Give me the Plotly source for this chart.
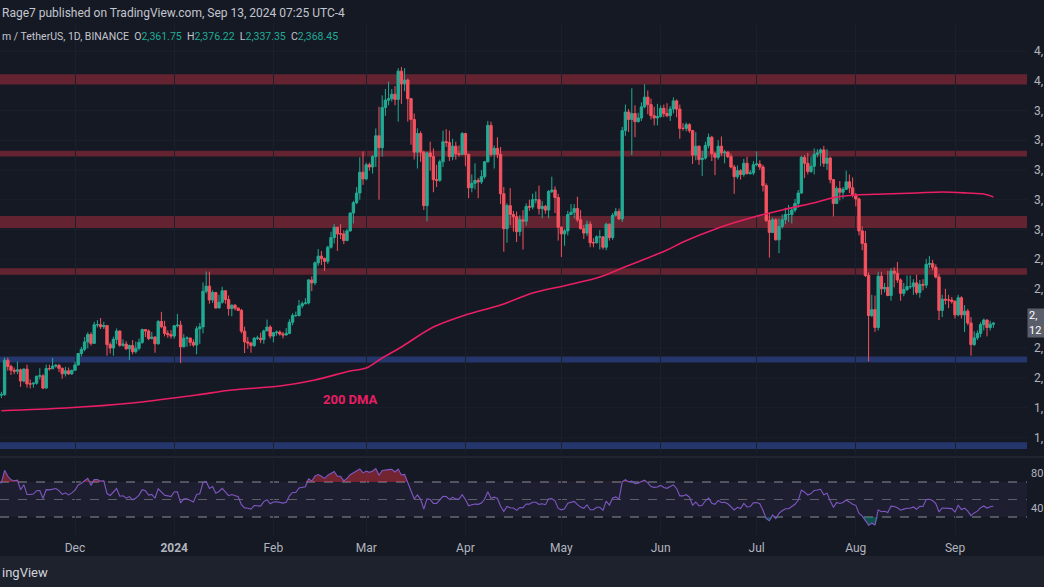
import numpy as np
import pandas as pd
import plotly.graph_objects as go

# ---------------- data (ETH/USDT daily) ----------------
start_date = "2023-11-07"
first_open = 1900

closes = [
    # Nov 7-30 2023
    1885, 1888, 2120, 2078, 2052, 2045, 2055, 1980, 2060, 1960, 1960, 1965, 2012, 2015, 1932, 2064, 2062, 2080, 2085, 2065, 2028, 2048, 2028, 2052,
    # Dec
    2088, 2165, 2193, 2243, 2293, 2233, 2358, 2359, 2345, 2353, 2225, 2202, 2260, 2316, 2220, 2228, 2196, 2218, 2177, 2200, 2240, 2326, 2316, 2265, 2275, 2230, 2380, 2345, 2300, 2292, 2282,
    # Jan 2024
    2352, 2356, 2210, 2268, 2269, 2240, 2222, 2331, 2344, 2584, 2618, 2525, 2575, 2471, 2510, 2587, 2528, 2467, 2490, 2470, 2455, 2315, 2243, 2236, 2218, 2268, 2268, 2258, 2317, 2343, 2282,
    # Feb
    2305, 2309, 2296, 2290, 2300, 2375, 2420, 2420, 2486, 2500, 2505, 2660, 2640, 2775, 2820, 2805, 2785, 2880, 2945, 3015, 2970, 2970, 2925, 2990, 3110, 3180, 3245, 3385, 3340,
    # Mar
    3435, 3420, 3490, 3630, 3550, 3820, 3870, 3880, 3910, 3875, 4065, 3980, 4005, 3880, 3740, 3520, 3645, 3520, 3160, 3515, 3490, 3335, 3330, 3455, 3590, 3585, 3490, 3560, 3510, 3505, 3645,
    # Apr
    3505, 3280, 3310, 3330, 3320, 3355, 3455, 3700, 3505, 3545, 3505, 3240, 3005, 3160, 3100, 3085, 2985, 3065, 3055, 3155, 3150, 3200, 3200, 3140, 3155, 3130, 3255, 3265, 3215, 3015,
    # May
    2970, 2990, 3100, 3115, 3140, 3065, 3005, 2975, 3035, 2910, 2910, 2950, 2950, 2880, 3035, 2945, 3095, 3120, 3070, 3665, 3790, 3740, 3780, 3725, 3750, 3825, 3890, 3840, 3765, 3750, 3760,
    # Jun
    3815, 3780, 3765, 3810, 3865, 3810, 3680, 3680, 3705, 3665, 3500, 3560, 3470, 3480, 3565, 3620, 3510, 3485, 3560, 3515, 3520, 3490, 3420, 3355, 3395, 3370, 3445, 3375, 3380, 3435,
    # Jul
    3440, 3420, 3295, 3060, 2980, 3065, 2930, 3020, 3065, 3100, 3100, 3130, 3175, 3245, 3485, 3445, 3390, 3425, 3505, 3515, 3535, 3445, 3480, 3335, 3175, 3275, 3250, 3270, 3320, 3280, 3230,
    # Aug
    3205, 2990, 2905, 2690, 2420, 2460, 2340, 2685, 2600, 2610, 2555, 2720, 2705, 2660, 2570, 2595, 2615, 2615, 2640, 2575, 2630, 2625, 2765, 2770, 2745, 2680, 2455, 2530, 2525, 2525, 2515,
    # Sep 1-13
    2425, 2540, 2425, 2450, 2370, 2225, 2270, 2300, 2360, 2390, 2340, 2361.75, 2368.45,
]

highs = [
    1905, 1907, 2137, 2138, 2090, 2070, 2110, 2063, 2065, 2090, 1990, 1970, 2015, 2065, 2025, 2090, 2090, 2135, 2095, 2095, 2070, 2075, 2070, 2055,
    2110, 2168, 2210, 2275, 2308, 2307, 2378, 2390, 2403, 2378, 2355, 2240, 2278, 2333, 2320, 2260, 2248, 2225, 2255, 2245, 2265, 2332, 2330, 2327, 2310, 2282, 2390, 2445, 2385, 2320, 2322,
    2354, 2431, 2385, 2295, 2280, 2270, 2260, 2350, 2370, 2643, 2717, 2715, 2590, 2580, 2560, 2614, 2588, 2555, 2495, 2498, 2475, 2465, 2345, 2275, 2240, 2275, 2285, 2305, 2325, 2393, 2355,
    2307, 2320, 2320, 2310, 2336, 2395, 2436, 2447, 2525, 2515, 2537, 2665, 2685, 2785, 2868, 2855, 2810, 2890, 2985, 3035, 3015, 3035, 2995, 3005, 3115, 3192, 3285, 3485, 3525,
    3450, 3450, 3500, 3680, 3825, 3902, 3945, 3995, 3945, 3965, 4085, 4093, 4085, 4015, 3885, 3780, 3680, 3660, 3530, 3525, 3590, 3545, 3435, 3470, 3665, 3675, 3665, 3610, 3590, 3565, 3655,
    3650, 3510, 3370, 3445, 3345, 3400, 3460, 3730, 3725, 3565, 3620, 3555, 3285, 3175, 3278, 3125, 3120, 3095, 3130, 3175, 3200, 3240, 3255, 3295, 3190, 3165, 3265, 3355, 3290, 3240,
    3020, 3005, 3125, 3170, 3170, 3220, 3130, 3030, 3060, 3055, 2940, 2960, 2995, 2955, 3045, 3040, 3110, 3145, 3140, 3690, 3840, 3810, 3950, 3835, 3785, 3855, 3977, 3935, 3880, 3825, 3845,
    3835, 3840, 3850, 3830, 3888, 3875, 3840, 3715, 3720, 3715, 3670, 3655, 3565, 3530, 3590, 3645, 3630, 3520, 3600, 3625, 3535, 3525, 3510, 3435, 3430, 3405, 3475, 3490, 3400, 3460,
    3525, 3465, 3435, 3310, 3110, 3080, 3075, 3075, 3100, 3145, 3165, 3145, 3205, 3265, 3495, 3500, 3515, 3490, 3545, 3540, 3545, 3562, 3540, 3490, 3340, 3290, 3325, 3285, 3395, 3370, 3350,
    3245, 3215, 3020, 2990, 2710, 2560, 2555, 2715, 2715, 2640, 2720, 2740, 2745, 2780, 2670, 2640, 2690, 2690, 2665, 2695, 2660, 2665, 2800, 2820, 2795, 2765, 2700, 2560, 2600, 2560, 2545,
    2525, 2560, 2550, 2490, 2465, 2410, 2315, 2320, 2375, 2400, 2395, 2385, 2376.22,
]

lows = [
    1855, 1865, 1880, 2050, 2020, 2025, 2025, 1940, 1970, 1935, 1930, 1935, 1955, 1990, 1925, 1930, 2050, 2060, 2070, 2040, 1995, 2010, 2020, 2020,
    2050, 2085, 2145, 2180, 2200, 2218, 2230, 2340, 2330, 2330, 2150, 2165, 2150, 2230, 2210, 2210, 2190, 2120, 2160, 2165, 2185, 2230, 2275, 2255, 2260, 2170, 2225, 2335, 2280, 2270, 2265,
    2265, 2340, 2100, 2205, 2210, 2215, 2210, 2160, 2230, 2300, 2570, 2500, 2505, 2467, 2470, 2500, 2500, 2420, 2415, 2455, 2450, 2300, 2168, 2197, 2170, 2208, 2255, 2235, 2230, 2315, 2265,
    2240, 2285, 2285, 2267, 2285, 2295, 2355, 2412, 2415, 2470, 2495, 2495, 2585, 2625, 2755, 2760, 2720, 2768, 2870, 2905, 2855, 2935, 2900, 2920, 2985, 3040, 3170, 3200, 3300,
    3330, 3395, 3375, 3420, 3200, 3490, 3765, 3835, 3860, 3835, 3725, 3845, 3930, 3725, 3570, 3470, 3410, 3455, 3130, 3055, 3395, 3250, 3285, 3320, 3420, 3555, 3460, 3465, 3470, 3490, 3500,
    3425, 3210, 3250, 3270, 3210, 3305, 3340, 3450, 3490, 3410, 3480, 3170, 2850, 2910, 3030, 2985, 2915, 2955, 2865, 3025, 3125, 3135, 3175, 3100, 3075, 3105, 3075, 3245, 3110, 2925,
    2815, 2890, 2960, 3095, 3075, 3050, 3000, 2935, 2955, 2880, 2880, 2905, 2865, 2865, 2860, 2925, 2930, 3085, 3065, 3050, 3630, 3655, 3500, 3620, 3720, 3730, 3815, 3775, 3740, 3700, 3700,
    3752, 3755, 3755, 3730, 3780, 3755, 3610, 3665, 3660, 3650, 3440, 3465, 3435, 3360, 3470, 3545, 3460, 3365, 3470, 3495, 3445, 3480, 3410, 3240, 3340, 3335, 3355, 3370, 3370, 3365,
    3425, 3400, 3255, 3050, 2810, 2975, 2925, 2840, 3005, 3035, 3050, 3040, 3115, 3145, 3240, 3345, 3370, 3380, 3370, 3485, 3425, 3420, 3400, 3310, 3087, 3170, 3195, 3205, 3265, 3245, 3215,
    3155, 2960, 2860, 2680, 2111, 2410, 2310, 2320, 2560, 2575, 2550, 2520, 2610, 2640, 2520, 2550, 2585, 2600, 2560, 2560, 2540, 2590, 2605, 2740, 2725, 2670, 2390, 2410, 2495, 2470, 2500,
    2400, 2415, 2400, 2310, 2355, 2150, 2215, 2255, 2275, 2320, 2280, 2320, 2337.35,
]

# closes before the visible window (Oct 8 - Nov 6 2023), only used to seed the RSI
warmup_closes = [1635, 1580, 1568, 1565, 1540, 1553, 1556, 1558, 1600, 1567, 1564, 1567, 1605, 1630, 1665,
                 1768, 1786, 1787, 1802, 1780, 1777, 1796, 1810, 1815, 1846, 1800, 1832, 1856, 1892, 1900]

# 200-day moving average
dma_dates = ["2023-11-08", "2023-11-28", "2023-12-19", "2024-01-08", "2024-01-19", "2024-02-03", "2024-02-14",
             "2024-02-25", "2024-03-01", "2024-03-06", "2024-03-12", "2024-03-22", "2024-04-01", "2024-04-12",
             "2024-04-22", "2024-05-03", "2024-05-13", "2024-05-20", "2024-05-24", "2024-06-03", "2024-06-08",
             "2024-06-19", "2024-06-29", "2024-07-09", "2024-07-20", "2024-07-26", "2024-08-01", "2024-08-10",
             "2024-08-20", "2024-08-28", "2024-09-05", "2024-09-10", "2024-09-13"]
dma_values = [1780, 1798, 1832, 1886, 1919, 1946, 1987, 2047, 2067, 2135, 2209, 2343, 2424, 2491, 2572, 2626,
              2680, 2740, 2774, 2861, 2915, 3010, 3077, 3131, 3185, 3218, 3232, 3238, 3245, 3252, 3245, 3238, 3218]

# horizontal zones (price bands)
red_zones = [(3975, 4045), (3490, 3530), (3010, 3090), (2695, 2738)]
blue_zones = [(2105, 2145), (1522, 1568)]

month_ticks = ["2023-12-01", "2024-01-01", "2024-02-01", "2024-03-01", "2024-04-01", "2024-05-01",
               "2024-06-01", "2024-07-01", "2024-08-01", "2024-09-01"]
month_labels = ["Dec", "<b>2024</b>", "Feb", "Mar", "Apr", "May", "Jun", "Jul", "Aug", "Sep"]
price_ticks = [1600, 1800, 2000, 2200, 2600, 2800, 3000, 3200, 3400, 3600, 3800, 4000, 4200, 4400]
# the price scale is cropped by the picture edge: only the leading "4," etc. is visible
price_tick_text = ["1,", "1,", "2,", "2,", "2,", "2,", "3,", "3,", "3,", "3,", "3,", "4,", "4,", "4,"]
rsi_ticks = [40, 80]

# ---------------- derived series ----------------
dates = pd.date_range(start_date, periods=len(closes), freq="D")
assert len(highs) == len(closes) == len(lows), (len(closes), len(highs), len(lows))
opens = [first_open] + closes[:-1]   # crypto daily open = previous close


def wilder_rsi(values, n=14):
    v = np.asarray(values, dtype=float)
    d = np.diff(v)
    g = np.clip(d, 0, None)
    l = np.clip(-d, 0, None)
    ag, al = g[:n].mean(), l[:n].mean()
    out = [np.nan] * n + [100 - 100 / (1 + ag / al)]
    for i in range(n, len(d)):
        ag = (ag * (n - 1) + g[i]) / n
        al = (al * (n - 1) + l[i]) / n
        out.append(100 - 100 / (1 + ag / al) if al > 0 else 100)
    return np.array(out)


rsi = wilder_rsi(warmup_closes + closes)[-len(closes):]

# ---------------- styling / layout ----------------
W, H = 1044, 587
BG = "#151924"
GRID = "#1c202c"
TXT = "#b2b5be"
UP = "#22ab94"
DN = "#f7525f"
PINK = "#e91e63"
FONT = "Roboto, Inter, sans-serif"

PLOT_RIGHT = 1027
XR = PLOT_RIGHT / W


def py(px):
    return 1 - px / H


# pixel geometry of the panes -> axis ranges
PX_PER_USD = 1 / 6.73
REF_PRICE, REF_PX = 4093, 67
main_top, main_bot = 25, 455
p_top = REF_PRICE + (REF_PX - main_top) / PX_PER_USD
p_bot = REF_PRICE - (main_bot - REF_PX) / PX_PER_USD

rsi_top, rsi_bot = 459, 535
RSI_PX = 0.875
r_top = 70 + (482 - rsi_top) / RSI_PX
r_bot = 30 - (rsi_bot - 517) / RSI_PX

x_range = ["2023-11-07 13:30", "2024-09-23 12:00"]

fig = go.Figure()

# RSI overbought / oversold fills
n = len(rsi)
fig.add_trace(go.Scatter(x=dates, y=[70] * n, mode="lines", line=dict(width=0), xaxis="x2", yaxis="y2",
                         hoverinfo="skip", showlegend=False))
fig.add_trace(go.Scatter(x=dates, y=np.maximum(rsi, 70), mode="lines", line=dict(width=0), fill="tonexty",
                         fillcolor="rgba(242,54,69,0.42)", xaxis="x2", yaxis="y2", hoverinfo="skip",
                         showlegend=False))
fig.add_trace(go.Scatter(x=dates, y=[30] * n, mode="lines", line=dict(width=0), xaxis="x2", yaxis="y2",
                         hoverinfo="skip", showlegend=False))
fig.add_trace(go.Scatter(x=dates, y=np.minimum(rsi, 30), mode="lines", line=dict(width=0), fill="tonexty",
                         fillcolor="rgba(8,153,129,0.45)", xaxis="x2", yaxis="y2", hoverinfo="skip",
                         showlegend=False))
fig.add_trace(go.Scatter(x=dates, y=rsi, mode="lines", line=dict(color="#7e57c2", width=1.1),
                         xaxis="x2", yaxis="y2", hoverinfo="skip", showlegend=False))

# candles
fig.add_trace(go.Candlestick(
    x=dates, open=opens, high=highs, low=lows, close=closes,
    increasing=dict(line=dict(color=UP, width=1), fillcolor=UP),
    decreasing=dict(line=dict(color=DN, width=1), fillcolor=DN),
    whiskerwidth=0, xaxis="x", yaxis="y", hoverinfo="skip", showlegend=False))

# 200 DMA
fig.add_trace(go.Scatter(x=pd.to_datetime(dma_dates), y=dma_values, mode="lines",
                         line=dict(color=PINK, width=1.6, shape="spline", smoothing=0.9),
                         xaxis="x", yaxis="y", hoverinfo="skip", showlegend=False))

shapes = []
# faint horizontal price grid, drawn first so the zones sit on top of it
for t in price_ticks + [2400]:
    shapes.append(dict(type="line", xref="x domain", yref="y", x0=0, x1=1, y0=t, y1=t,
                       line=dict(color=GRID, width=1), layer="below"))
for lo, hi in red_zones:
    shapes.append(dict(type="rect", xref="x domain", yref="y", x0=0, x1=1, y0=lo, y1=hi,
                       fillcolor="rgba(120,38,52,0.8)", line=dict(width=0), layer="below"))
for lo, hi in blue_zones:
    shapes.append(dict(type="rect", xref="x domain", yref="y", x0=0, x1=1, y0=lo, y1=hi,
                       fillcolor="rgba(40,58,120,0.88)", line=dict(width=0), layer="below"))
# RSI band + level lines
shapes.append(dict(type="rect", xref="x2 domain", yref="y2", x0=0, x1=1, y0=30, y1=70,
                   fillcolor="rgba(126,87,194,0.09)", line=dict(width=0), layer="below"))
for lvl, col in [(70, "#8a8d96"), (50, "#5d606b"), (30, "#8a8d96")]:
    shapes.append(dict(type="line", xref="x2 domain", yref="y2", x0=0, x1=1, y0=lvl, y1=lvl,
                       line=dict(color=col, width=1, dash="dash"), layer="below"))
# pane separator
shapes.append(dict(type="line", xref="paper", yref="paper", x0=0, x1=1, y0=py(457), y1=py(457),
                   line=dict(color="#262a36", width=1.5)))
# bottom bar
shapes.append(dict(type="rect", xref="paper", yref="paper", x0=0, x1=1, y0=0, y1=py(556),
                   fillcolor="#1e222d", line=dict(width=0), layer="above"))


def g(v):
    return f"<span style='color:{UP}'>{v:,.2f}</span>"


sp = "\u00a0\u00a0"
hdr2 = (f"m / TetherUS, 1D, BINANCE{sp}O{g(opens[-1])}{sp}H{g(highs[-1])}"
        f"{sp}L{g(lows[-1])}{sp}C{g(closes[-1])}")

last_label = f"{closes[-1]:,.2f}"[:2] + "<br>12"   # cropped last-price tag on the scale

annotations = [
    dict(x=0, y=py(13), xref="paper", yref="paper", xanchor="left", yanchor="middle", showarrow=False,
         text="Rage7 published on TradingView.com, Sep 13, 2024 07:25 UTC-4",
         font=dict(family=FONT, size=12, color="#c3c6ce")),
    dict(x=0, y=py(36), xref="paper", yref="paper", xanchor="left", yanchor="middle", showarrow=False,
         text=hdr2, font=dict(family=FONT, size=10.5, color="#c3c6ce")),
    dict(x=pd.Timestamp("2024-02-25"), y=1852, xref="x", yref="y", xanchor="center", yanchor="middle",
         showarrow=False, text="<b>200 DMA</b>", font=dict(family=FONT, size=13, color=PINK)),
    dict(x=XR, y=closes[-1], xref="paper", yref="y", xanchor="left", yanchor="middle", showarrow=False,
         text=last_label, align="left", bgcolor="#5a5e6a", borderpad=1, width=15, height=26,
         font=dict(family=FONT, size=11, color="#ffffff")),
    dict(x=0, y=py(572), xref="paper", yref="paper", xanchor="left", yanchor="middle", showarrow=False,
         text="ingView", font=dict(family=FONT, size=13, color="#d1d4dc")),
]

fig.update_layout(
    width=W, height=H, margin=dict(l=0, r=0, t=0, b=0),
    paper_bgcolor=BG, plot_bgcolor=BG, showlegend=False,
    font=dict(family=FONT, color=TXT),
    boxgap=0.18, boxgroupgap=0.1,
    xaxis=dict(domain=[0, XR], range=x_range, type="date", anchor="y", tickvals=month_ticks,
               showticklabels=False, showgrid=True, gridcolor=GRID, gridwidth=1, zeroline=False,
               showline=False, ticks="", rangeslider=dict(visible=False), fixedrange=True),
    yaxis=dict(domain=[py(main_bot), py(main_top)], range=[p_bot, p_top], anchor="x", side="right",
               tickvals=price_ticks, ticktext=price_tick_text, ticks="", ticklabelstandoff=6,
               tickfont=dict(family=FONT, size=12, color=TXT), showgrid=False,
               zeroline=False, showline=False, automargin=False, fixedrange=True),
    xaxis2=dict(domain=[0, XR], range=x_range, type="date", anchor="y2", tickvals=month_ticks,
                ticktext=month_labels, tickfont=dict(family=FONT, size=12, color=TXT), ticks="",
                ticklabelstandoff=4, showgrid=True, gridcolor=GRID, zeroline=False, showline=False,
                automargin=False, fixedrange=True),
    yaxis2=dict(domain=[py(rsi_bot), py(rsi_top)], range=[r_bot, r_top], anchor="x2", side="right",
                tickvals=rsi_ticks, ticks="", ticklabelstandoff=3,
                tickfont=dict(family=FONT, size=11, color=TXT), showgrid=False, zeroline=False,
                showline=False, automargin=False, fixedrange=True),
    shapes=shapes, annotations=annotations,
)

fig.write_html("out.html")
